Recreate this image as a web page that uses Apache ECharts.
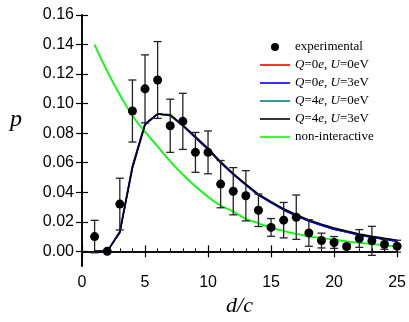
<!DOCTYPE html>
<html>
<head>
<meta charset="utf-8">
<script src="https://cdn.jsdelivr.net/npm/echarts@6/dist/echarts.min.js"></script>
<style>
  html, body { margin: 0; padding: 0; background: #fff; }
  #chart { width: 409px; height: 322px; }
</style>
</head>
<body>
<div id="chart"></div>
<script>
// d/c values
const dc = [1, 2, 3, 4, 5, 6, 7, 8, 9, 10, 11, 12, 13, 14, 15, 16, 17, 18, 19, 20, 21, 22, 23, 24, 25];

// experimental points and their error bars
const experimental = [0.010, 0.000, 0.032, 0.095, 0.110, 0.116, 0.085, 0.088, 0.067, 0.067, 0.0455, 0.0407, 0.0376,
  0.0278, 0.0162, 0.0211, 0.0231, 0.0124, 0.0073, 0.0060, 0.0033, 0.0087, 0.0071, 0.0047, 0.0035];
const expError = [0.011, 0.000, 0.0175, 0.021, 0.023, 0.026, 0.018, 0.019, 0.0135, 0.0145, 0.016, 0.016, 0.017,
  0.011, 0.006, 0.012, 0.015, 0.009, 0.005, 0.004, 0.0015, 0.006, 0.0098, 0.0033, 0.004];

// model curves
const q0u0 = [0, 0, 0.013, 0.057, 0.086, 0.093, 0.092, 0.085, 0.077, 0.069, 0.060, 0.052, 0.045,
  0.038, 0.033, 0.028, 0.024, 0.0205, 0.0176, 0.015, 0.013, 0.011, 0.0095, 0.0081, 0.0068];
const q0u3 = [0, 0, 0.0135, 0.058, 0.0865, 0.093, 0.092, 0.085, 0.077, 0.069, 0.060, 0.052, 0.045,
  0.038, 0.033, 0.028, 0.024, 0.0205, 0.0176, 0.015, 0.013, 0.011, 0.0095, 0.0081, 0.0068];
const q4u0 = [0, 0, 0.013, 0.057, 0.086, 0.093, 0.092, 0.085, 0.077, 0.069, 0.060, 0.052, 0.045,
  0.038, 0.033, 0.028, 0.024, 0.0205, 0.0176, 0.015, 0.013, 0.011, 0.0095, 0.0081, 0.0068];
const q4u3 = [0, 0, 0.0125, 0.056, 0.0855, 0.093, 0.0925, 0.0855, 0.0777, 0.0697, 0.0607, 0.0527, 0.0455,
  0.0388, 0.0337, 0.0288, 0.0248, 0.0213, 0.0184, 0.0158, 0.0137, 0.0117, 0.0102, 0.0088, 0.0075];
const nonInteractive = [0.140, 0.122, 0.106, 0.092, 0.081, 0.071, 0.061, 0.052, 0.044, 0.037, 0.031, 0.027, 0.022,
  0.019, 0.016, 0.0138, 0.0118, 0.0102, 0.0090, 0.0079, 0.0068, 0.0058, 0.0049, 0.0041, 0.0034];

const yTicks = [0, 0.02, 0.04, 0.06, 0.08, 0.10, 0.12, 0.14, 0.16];

const pairs = ys => dc.map((x, i) => [x, ys[i]]);
const serif = 'Liberation Serif';
const sans = 'Liberation Sans';
const lineIcon = 'path://M0,0H30V1.6H0Z';

const legendLabels = {
  'experimental': 'experimental',
  'Q=0e, U=0eV': '{i|Q}=0{i|e}, {i|U}=0eV',
  'Q=0e, U=3eV': '{i|Q}=0{i|e}, {i|U}=3eV',
  'Q=4e, U=0eV': '{i|Q}=4{i|e}, {i|U}=0eV',
  'Q=4e, U=3eV': '{i|Q}=4{i|e}, {i|U}=3eV',
  'non-interactive': 'non-interactive'
};

const chart = echarts.init(document.getElementById('chart'));

const lineSeries = (name, ys, color, z, width = 1.5) => ({
  name, type: 'line', data: pairs(ys), symbol: 'none', z,
  lineStyle: { color, width }, itemStyle: { color }
});

chart.setOption({
  animation: false,
  grid: { left: 82, right: 11, top: 15, bottom: 52 },
  graphic: [{
    type: 'text', left: 10, top: 108,
    style: { text: 'p', font: 'italic 24px "Liberation Serif"', fill: '#000' }
  }],
  legend: {
    orient: 'vertical', left: 255, top: 35,
    itemWidth: 30, itemHeight: 8, itemGap: 4,
    data: [
      { name: 'experimental', icon: 'circle' },
      { name: 'Q=0e, U=0eV', icon: lineIcon },
      { name: 'Q=0e, U=3eV', icon: lineIcon },
      { name: 'Q=4e, U=0eV', icon: lineIcon },
      { name: 'Q=4e, U=3eV', icon: lineIcon },
      { name: 'non-interactive', icon: lineIcon }
    ],
    formatter: name => legendLabels[name],
    textStyle: {
      fontFamily: serif, fontSize: 13, color: '#000', lineHeight: 14,
      rich: { i: { fontFamily: serif, fontSize: 13, fontStyle: 'italic', color: '#000' } }
    }
  },
  xAxis: [{
    type: 'value', position: 'bottom', min: 0, max: 25, interval: 5,
    name: 'd/c', nameLocation: 'middle', nameGap: 26,
    nameTextStyle: { fontFamily: serif, fontStyle: 'italic', fontSize: 22, color: '#000' },
    axisLine: { lineStyle: { color: '#000', width: 1.6 } },
    axisTick: { inside: true, length: 6, lineStyle: { color: '#000', width: 1.2 } },
    minorTick: { show: true, splitNumber: 5, length: 3, lineStyle: { color: '#000', width: 1 } },
    axisLabel: { fontFamily: sans, fontSize: 16, color: '#000', margin: 8 },
    splitLine: { show: false }
  }, {
    type: 'value', position: 'top', min: 0, max: 25, interval: 5,
    axisLine: { lineStyle: { color: '#000', width: 1.6 } },
    axisTick: { inside: true, length: 6, lineStyle: { color: '#000', width: 1.2 } },
    axisLabel: { show: false },
    splitLine: { show: false }
  }],
  yAxis: [{
    type: 'value', min: -0.01, max: 0.16,
    axisLine: { lineStyle: { color: '#000', width: 1.6 } },
    axisTick: { inside: true, length: 6, customValues: yTicks, lineStyle: { color: '#000', width: 1.2 } },
    axisLabel: { fontFamily: sans, fontSize: 16, color: '#000', margin: 8, customValues: yTicks, formatter: v => v.toFixed(2) },
    splitLine: { show: false }
  }, {
    type: 'value', position: 'right', min: -0.01, max: 0.16,
    axisLine: { lineStyle: { color: '#000', width: 1.6 } },
    axisTick: { inside: true, length: 6, customValues: yTicks, lineStyle: { color: '#000', width: 1.2 } },
    axisLabel: { show: false },
    splitLine: { show: false }
  }],
  series: [
    {
      name: 'errors', type: 'custom', z: 5,
      data: dc.map((x, i) => [x, experimental[i], expError[i]]),
      renderItem: (params, api) => {
        const x = api.value(0), y = api.value(1), e = api.value(2);
        if (!e) return null;
        const top = api.coord([x, y + e]);
        const bot = api.coord([x, y - e]);
        const style = { stroke: '#222', lineWidth: 1.3 };
        return {
          type: 'group',
          children: [
            { type: 'line', shape: { x1: top[0], y1: top[1], x2: bot[0], y2: bot[1] }, style },
            { type: 'line', shape: { x1: top[0] - 4, y1: top[1], x2: top[0] + 4, y2: top[1] }, style },
            { type: 'line', shape: { x1: bot[0] - 4, y1: bot[1], x2: bot[0] + 4, y2: bot[1] }, style }
          ]
        };
      }
    },
    {
      name: 'experimental', type: 'scatter', data: pairs(experimental), z: 6,
      symbol: 'circle', symbolSize: 9, itemStyle: { color: '#000', opacity: 1 }
    },
    lineSeries('Q=0e, U=0eV', q0u0, '#ff0000', 2),
    lineSeries('Q=0e, U=3eV', q0u3, '#0000ff', 3),
    lineSeries('Q=4e, U=0eV', q4u0, '#008080', 2),
    lineSeries('Q=4e, U=3eV', q4u3, '#000000', 4),
    Object.assign(lineSeries('non-interactive', nonInteractive, '#00ff00', 3, 1.8), { smooth: true })
  ]
});
</script>
</body>
</html>
